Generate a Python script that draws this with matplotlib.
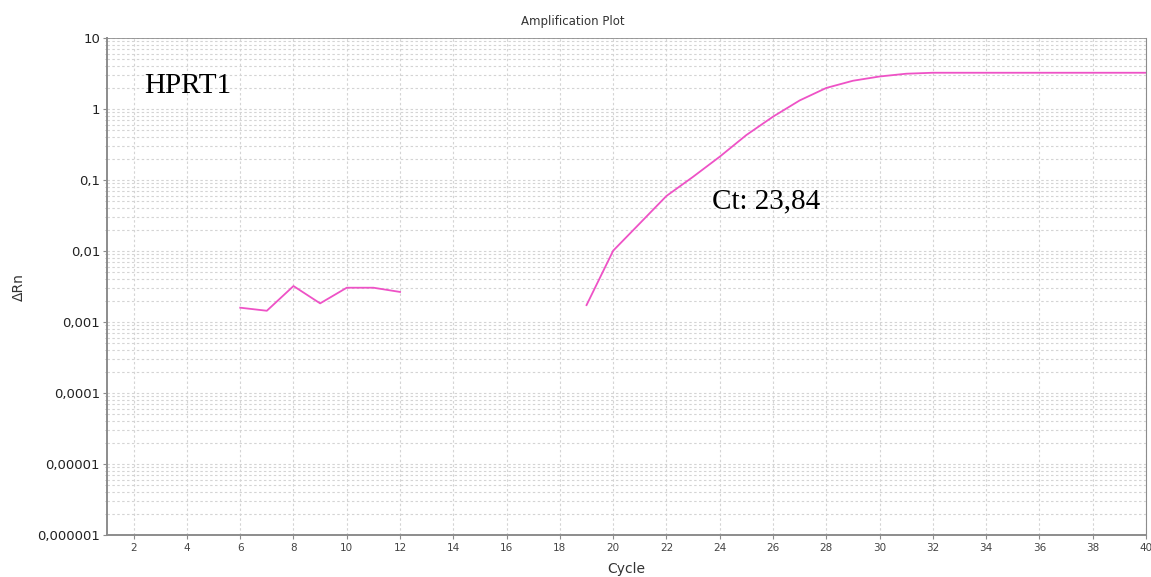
#!/usr/bin/env python3
"""
Amplification plot (log dRn vs cycle) for the HPRT1 well.

Writes:
    out.png
"""

import numpy as np
import matplotlib
matplotlib.use("Agg")
import matplotlib.pyplot as plt
from matplotlib.ticker import FixedLocator, LogLocator, NullFormatter


# baseline region (cycles 6-12) and the exponential/plateau region (19-40)
BASELINE_CYCLES = [6, 7, 8, 9, 10, 11, 12]
BASELINE_DRN = [0.00159, 0.00144, 0.00321, 0.00183, 0.00304, 0.00304, 0.00265]

AMP_CYCLES = [19, 20, 21, 22, 23, 24, 25, 26, 27, 28, 29, 30,
              31, 32, 33, 34, 35, 36, 37, 38, 39, 40]
AMP_DRN = [0.00173, 0.0101, 0.0245, 0.0596, 0.111, 0.213, 0.430, 0.780,
           1.32, 1.98, 2.50, 2.87, 3.14, 3.24, 3.24, 3.24, 3.24, 3.24,
           3.24, 3.24, 3.24, 3.24]

X_TICKS = list(range(2, 41, 2))
Y_TICKS = [1e-6, 1e-5, 1e-4, 1e-3, 1e-2, 1e-1, 1, 10]
Y_TICK_LABELS = ["0,000001", "0,00001", "0,0001", "0,001", "0,01", "0,1", "1", "10"]

GENE = "HPRT1"
CT_LABEL = "Ct: 23,84"

LINE_COLOR = "#ee52c6"
GRID_COLOR = "#d4d4d4"
SPINE_COLOR = "#8c8c8c"


def main() -> None:
    fig = plt.figure(figsize=(11.51, 5.77), dpi=100)
    ax = fig.add_axes([107 / 1151, 1 - 535 / 577, (1146 - 107) / 1151, (535 - 38) / 577])

    ax.plot(BASELINE_CYCLES, BASELINE_DRN, color=LINE_COLOR, lw=1.3)
    ax.plot(AMP_CYCLES, AMP_DRN, color=LINE_COLOR, lw=1.3)

    ax.set_yscale("log")
    ax.set_xlim(1, 40)
    ax.set_ylim(1e-6, 10)

    ax.xaxis.set_major_locator(FixedLocator(X_TICKS))
    ax.set_xticklabels([str(v) for v in X_TICKS])
    ax.yaxis.set_major_locator(FixedLocator(Y_TICKS))
    ax.set_yticklabels(Y_TICK_LABELS)
    ax.yaxis.set_minor_locator(LogLocator(base=10, subs=np.arange(2, 10)))
    ax.yaxis.set_minor_formatter(NullFormatter())

    # dashed light grid, minor lines on the log axis too
    dash = (0, (2.2, 2.2))
    ax.grid(True, axis="x", which="major", color=GRID_COLOR, lw=0.8, linestyle=dash)
    ax.grid(True, axis="y", which="both", color=GRID_COLOR, lw=0.8, linestyle=dash)
    ax.set_axisbelow(True)

    for side in ["left", "bottom", "right", "top"]:
        ax.spines[side].set_color(SPINE_COLOR)
        ax.spines[side].set_linewidth(1.4)
    ax.spines["top"].set_linewidth(0.6)
    ax.spines["right"].set_linewidth(0.8)

    ax.tick_params(axis="y", which="major", length=3, width=0.8, color=SPINE_COLOR,
                   labelsize=9.5, labelcolor="#222222", pad=2)
    ax.tick_params(axis="y", which="minor", length=1.5, width=0.6, color="#b0b0b0")
    ax.tick_params(axis="x", which="major", length=3, width=0.8, color=SPINE_COLOR,
                   labelsize=7.5, labelcolor="#444444", pad=3)

    ax.text(2.41, 1.68, GENE, fontsize=21, family="Liberation Serif",
            color="black", va="baseline", ha="left")
    ax.text(23.72, 0.0399, CT_LABEL, fontsize=21, family="Liberation Serif",
            color="black", va="baseline", ha="left")

    fig.text(573 / 1151, 1 - 21 / 577, "Amplification Plot", fontsize=8.5,
             color="#333333", ha="center", va="center")
    fig.text(626 / 1151, 1 - 569 / 577, "Cycle", fontsize=10,
             color="#333333", ha="center", va="center")
    fig.text(19 / 1151, 1 - 287 / 577, "\u0394Rn", fontsize=10, rotation=90,
             color="#333333", ha="center", va="center")

    fig.savefig("out.png", dpi=100, facecolor="white")
    plt.close(fig)


if __name__ == "__main__":
    main()
